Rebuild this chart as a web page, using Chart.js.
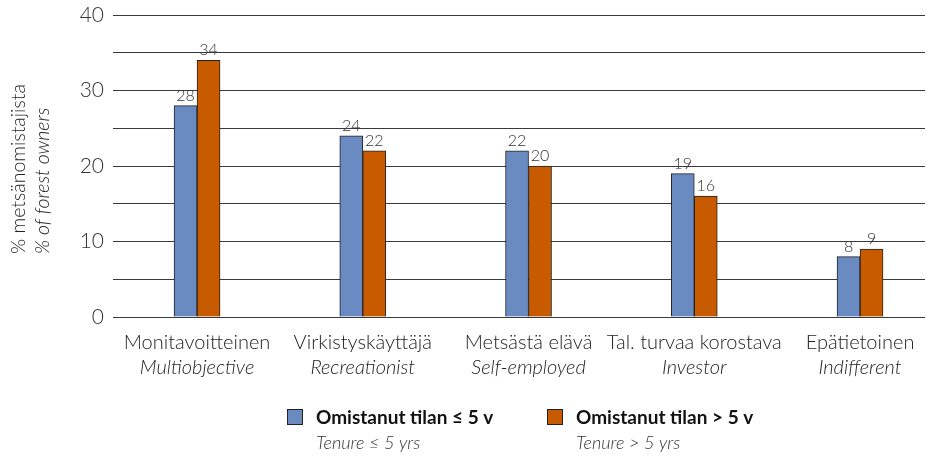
<!DOCTYPE html>
<html>
<head>
<meta charset="utf-8">
<script src="https://cdn.jsdelivr.net/npm/chart.js@4.4.1/dist/chart.umd.min.js"></script>
<style>
  html, body { margin: 0; padding: 0; background: #fff; }
  #wrap { width: 939px; height: 458px; }
</style>
</head>
<body>
<div id="wrap"><canvas id="chart" width="939" height="458"></canvas></div>
<script>
// Data
const categoriesFi = ['Monitavoitteinen', 'Virkistyskäyttäjä', 'Metsästä elävä', 'Tal. turvaa korostava', 'Epätietoinen'];
const categoriesEn = ['Multiobjective', 'Recreationist', 'Self-employed', 'Investor', 'Indifferent'];
const tenureShort = [28, 24, 22, 19, 8];
const tenureLong = [34, 22, 20, 16, 9];
const yTicks = [0, 10, 20, 30, 40];
const seriesFi = ['Omistanut tilan ≤ 5 v', 'Omistanut tilan > 5 v'];
const seriesEn = ['Tenure ≤ 5 yrs', 'Tenure > 5 yrs'];
const yTitle = ['% metsänomistajista', '% of forest owners'];

const FONT = 'Lato, "Open Sans", sans-serif';
const colors = ['#6a8bc1', '#c85a00'];

const toPoints = arr => arr.map((v, i) => ({ x: i, y: v }));

// labels, titles and legend drawn by hand (mixed regular / italic / bold lines)
const textPlugin = {
    id: 'textPlugin',
    afterDatasetsDraw(chart) {
        const ctx = chart.ctx;
        const xs = chart.scales.x;
        ctx.save();
        ctx.fillStyle = '#333';
        ctx.textAlign = 'center';
        ctx.textBaseline = 'bottom';
        ctx.font = '300 16px ' + FONT;
        chart.data.datasets.forEach((ds, di) => {
            chart.getDatasetMeta(di).data.forEach((bar, i) => {
                ctx.fillText(ds.data[i].y, bar.x, bar.y - 2);
            });
        });

        // category labels
        ctx.fillStyle = '#222';
        ctx.textBaseline = 'middle';
        categoriesFi.forEach((c, i) => {
            const x = xs.getPixelForValue(i);
            ctx.font = '300 20px ' + FONT;
            ctx.fillText(c, x, 343);
            ctx.font = 'italic 300 20px ' + FONT;
            ctx.fillText(categoriesEn[i], x, 368);
        });

        // y title
        ctx.save();
        ctx.translate(0, 254);
        ctx.rotate(-Math.PI / 2);
        ctx.textAlign = 'left';
        ctx.font = '300 19.5px ' + FONT;
        ctx.fillText(yTitle[0], 0, 19);
        ctx.font = 'italic 300 19.5px ' + FONT;
        ctx.fillText(yTitle[1], 0, 43);
        ctx.restore();

        // legend
        const legendX = [287, 547];
        ctx.textAlign = 'left';
        seriesFi.forEach((s, i) => {
            const lx = legendX[i];
            ctx.fillStyle = colors[i];
            ctx.fillRect(lx, 409, 16, 16);
            ctx.strokeStyle = '#222';
            ctx.lineWidth = 1;
            ctx.strokeRect(lx + 0.5, 409.5, 15, 15);
            ctx.fillStyle = '#111';
            ctx.font = 'bold 19px ' + FONT;
            ctx.fillText(s, lx + 29, 418);
            ctx.fillStyle = '#333';
            ctx.font = 'italic 300 18px ' + FONT;
            ctx.fillText(seriesEn[i], lx + 29, 443);
        });
        ctx.restore();
    }
};

const chart = new Chart(document.getElementById('chart'), {
    type: 'bar',
    data: {
        datasets: [
            {
                label: seriesFi[0],
                data: toPoints(tenureShort),
                backgroundColor: colors[0],
                borderColor: '#222',
                borderWidth: 1,
                barThickness: 23
            },
            {
                label: seriesFi[1],
                data: toPoints(tenureLong),
                backgroundColor: colors[1],
                borderColor: '#222',
                borderWidth: 1,
                barThickness: 23
            }
        ]
    },
    options: {
        responsive: false,
        animation: false,
        events: [],
        layout: { padding: { top: 15, right: 14, left: 0, bottom: 0 } },
        scales: {
            x: {
                type: 'linear',
                min: -0.507,
                max: 4.392,
                offset: false,
                grid: { display: false, offset: false },
                border: { display: false },
                ticks: { display: false },
                afterFit: s => { s.height = 141; s.paddingLeft = 0; s.paddingRight = 0; }
            },
            y: {
                min: 0,
                max: 40,
                border: { display: false },
                grid: { color: '#3a3a3a', lineWidth: 1, drawTicks: false },
                ticks: {
                    stepSize: 5,
                    padding: 9,
                    color: '#333',
                    font: { family: FONT, size: 21, weight: 300 },
                    callback: v => yTicks.includes(v) ? v : ''
                },
                afterFit: s => { s.width = 113; s.paddingTop = 0; s.paddingBottom = 0; }
            }
        },
        plugins: {
            legend: { display: false },
            tooltip: { enabled: false }
        }
    },
    plugins: [textPlugin]
});
</script>
</body>
</html>
